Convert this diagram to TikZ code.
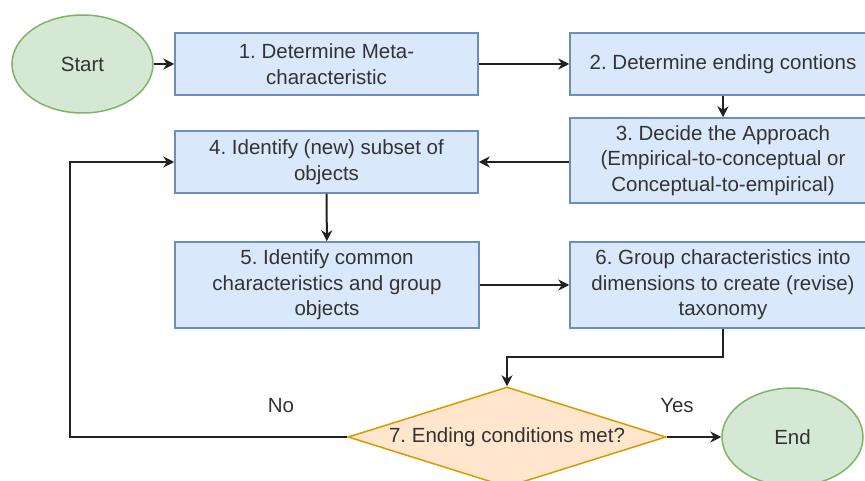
\documentclass[tikz,border=0pt]{standalone}
\usepackage{fontspec}
\setmainfont{Liberation Sans}
\usetikzlibrary{shapes.geometric,arrows.meta}
\definecolor{boxf}{HTML}{DAE8FC}
\definecolor{boxd}{HTML}{6C8EBF}
\definecolor{grnf}{HTML}{D5E8D4}
\definecolor{grnd}{HTML}{82B366}
\definecolor{orf}{HTML}{FFE6CC}
\definecolor{ord}{HTML}{D79B00}
\definecolor{txt}{HTML}{333333}
\definecolor{lnc}{HTML}{222222}
\begin{document}
\frenchspacing
\begin{tikzpicture}[x=1pt,y=-1pt,
  every node/.style={font=\frenchspacing\fontsize{20.5}{25.5}\selectfont, text=txt},
  box/.style={draw=boxd, fill=boxf, line width=1.5pt, align=center, inner sep=0pt},
  term/.style={ellipse, draw=grnd, fill=grnf, line width=1.5pt, minimum width=141pt, minimum height=98pt, inner sep=0pt},
  decision/.style={diamond, shape aspect=3.18, draw=ord, fill=orf, line width=1.5pt, minimum width=318pt, minimum height=100pt, inner sep=0pt},
  arr/.style={draw=lnc, line width=2pt, -{Stealth[length=11pt,width=11pt]}}]
\useasboundingbox (0,0) rectangle (865,481);
\clip (0,0) rectangle (865,481);
\fill[white] (0,0) rectangle (865,481);

\node[term] (start) at (82.5,64) {Start};
\node[box, minimum width=303pt, minimum height=62pt] (b1) at (326.5,64) {1. Determine Meta-\\characteristic};
\node[box, minimum width=306pt, minimum height=62pt] (b2) at (723,64) {2. Determine ending contions};
\node[box, minimum width=306pt, minimum height=85pt] (b3) at (723,160.5) {3. Decide the Approach\\(Empirical-to-conceptual or\\Conceptual-to-empirical)};
\node[box, minimum width=303pt, minimum height=62pt] (b4) at (326.5,162) {4. Identify (new) subset of\\objects};
\node[box, minimum width=304pt, minimum height=86pt] (b5) at (327,285) {5. Identify common\\characteristics and group\\objects};
\node[box, minimum width=306pt, minimum height=86pt] (b6) at (723,285) {6. Group characteristics into\\dimensions to create (revise)\\taxonomy};
\node[decision] (d) at (507,437) {7. Ending conditions met?};
\node[term] (end) at (792.5,437) {End};
\node (no) at (281,406) {No};
\node (yes) at (677,406) {Yes};

\coordinate (loop) at (70,437);
\coordinate (bend) at (723,357);

\draw[arr] (start) -- (b1);
\draw[arr] (b1) -- (b2);
\draw[arr] (b2) -- (b3);
\draw[arr] (b3.west |- b4.east) -- (b4.east);
\draw[arr] (b4) -- (b5);
\draw[arr] (b5) -- (b6);
\draw[arr] (b6.south) -- (bend) -| (d.north);
\draw[arr] (d.east) -- (end.west);
\draw[arr] (d.west) -- (loop) |- (b4.west);
\end{tikzpicture}
\end{document}
